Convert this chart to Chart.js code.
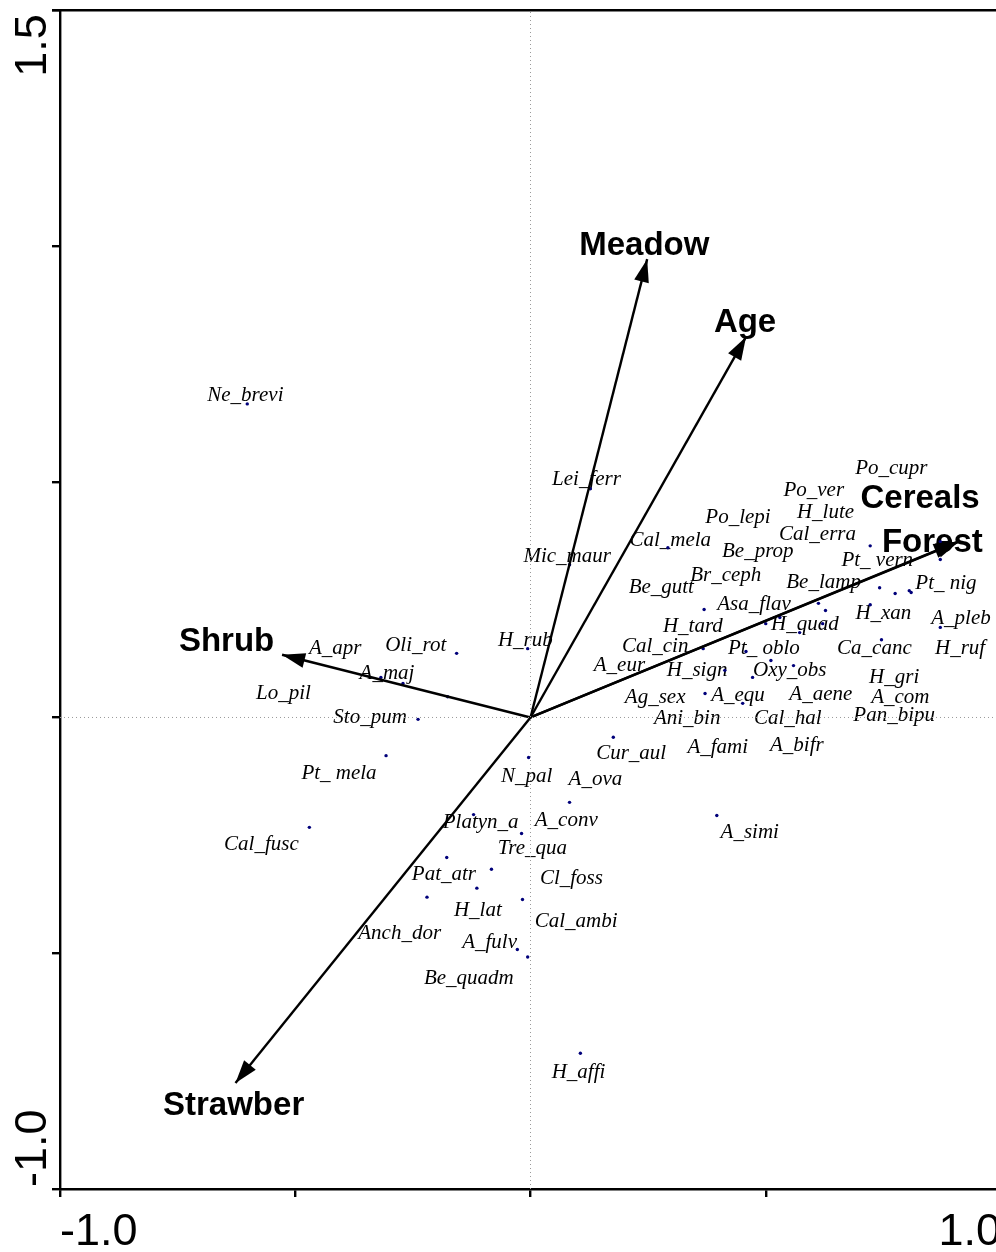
<!DOCTYPE html>
<html>
<head>
<meta charset="utf-8">
<script src="https://cdn.jsdelivr.net/npm/chart.js@4.4.1/dist/chart.umd.min.js"></script>
<style>
  html, body { margin: 0; padding: 0; background: #fff; overflow: hidden; }
  #wrap { width: 1010px; height: 1252px; }
</style>
</head>
<body>
<div id="wrap"><canvas id="c" width="1010" height="1252"></canvas></div>
<script>
// ---- species scores (data units) ----
const speciesNames = ["Ne_brevi","Lei_ferr","Mic_maur","Cal_mela","Po_cupr","Po_ver","H_lute","Po_lepi","Cal_erra","Be_prop",
  "Pt_ vern","Br_ceph","Be_lamp","Pt_ nig","Be_gutt","Asa_flav","H_xan","A_pleb","H_tard","H_quad",
  "Ca_canc","H_ruf","Cal_cin","Pt_ oblo","A_eur","H_sign","Oxy_obs","H_gri","Ag_sex","A_equ",
  "A_aene","A_com","Ani_bin","Cal_hal","Pan_bipu","Cur_aul","A_fami","A_bifr","A_ova","A_simi",
  "A_apr","Oli_rot","H_rub","A_maj","Lo_pil","Sto_pum","Pt_ mela","N_pal","Cal_fusc","Platyn_a",
  "A_conv","Tre_qua","Pat_atr","Cl_foss","H_lat","Cal_ambi","Anch_dor","A_fulv","Be_quadm","H_affi"];
const speciesX = [-0.602,0.127,0.083,0.292,0.722,0.871,0.871,null,null,null,
  0.742,0.369,0.612,0.805,null,0.500,0.722,0.871,0.530,0.621,
  0.746,0.809,0.367,0.458,null,0.413,0.559,0.775,0.371,0.451,
  0.572,0.627,0.472,0.511,null,0.176,null,null,0.083,0.396,
  -0.318,-0.157,-0.006,-0.271,-0.176,-0.239,-0.307,-0.004,-0.470,-0.121,
  null,-0.019,-0.178,-0.017,-0.114,-0.006,-0.220,-0.028,-0.083,0.106];
const speciesY = [0.665,0.485,0.324,0.360,0.364,0.373,0.335,null,null,null,
  0.275,0.229,0.242,0.269,null,0.199,0.239,0.191,0.212,0.199,
  0.165,0.265,0.146,0.140,null,0.100,0.110,0.263,0.051,0.030,
  0.180,0.227,0.085,0.121,null,-0.042,null,null,-0.180,-0.208,
  0.085,0.136,0.146,0.072,0.044,-0.004,-0.081,-0.085,-0.233,-0.206,
  null,-0.246,-0.297,-0.386,-0.362,-0.508,-0.381,-0.492,-0.322,-0.712];
// label anchors (data units, as placed in the original plot)
const labelX = [-0.606,0.119,0.078,0.297,0.767,0.602,0.627,0.441,0.610,0.483,
  0.737,0.415,0.623,0.883,0.278,0.475,0.750,0.915,0.345,0.583,
  0.731,0.913,0.265,0.496,0.189,0.354,0.551,0.773,0.265,0.441,
  0.617,0.786,0.333,0.547,0.773,0.214,0.398,0.566,0.138,0.466,
  -0.415,-0.244,-0.011,-0.305,-0.525,-0.341,-0.407,-0.008,-0.572,-0.106,
  0.076,0.004,-0.184,0.087,-0.112,0.097,-0.278,-0.087,-0.131,0.102];
const labelY = [0.682,0.504,0.341,0.375,0.528,0.481,0.434,0.424,0.388,0.352,
  0.333,0.301,0.286,0.284,0.275,0.239,0.220,0.210,0.193,0.197,
  0.146,0.146,0.150,0.146,0.110,0.100,0.100,0.085,0.042,0.047,
  0.049,0.042,-0.002,-0.002,0.004,-0.076,-0.064,-0.059,-0.131,-0.244,
  0.146,0.153,0.163,0.093,0.051,0.000,-0.119,-0.125,-0.269,-0.222,
  -0.218,-0.278,-0.333,-0.341,-0.409,-0.432,-0.458,-0.477,-0.553,-0.752];

// ---- environmental variables (arrow tips, data units) ----
const envNames = ["Meadow","Age","Cereals","Forest","Shrub","Strawber"];
const envX = [0.248,0.458,0.906,0.911,-0.528,-0.627];
const envY = [0.972,0.807,0.372,0.373,0.133,-0.775];
const envLabelX = [0.242,0.456,0.828,0.854,-0.646,-0.631];
const envLabelY = [1.000,0.837,0.464,0.371,0.161,-0.824];

// ---- axes ----
const xMin = -1.0, xMax = 1.0, yMin = -1.0, yMax = 1.5, tickStep = 0.5;
const xTickLabels = ["-1.0","1.0"];
const yTickLabels = ["1.5","-1.0"];

const datasets = [];
// zero reference lines
datasets.push({ data:[{x:0,y:yMin},{x:0,y:yMax}], showLine:true, borderColor:'#9a9a9a', borderWidth:1, borderDash:[1,3], pointRadius:0 });
datasets.push({ data:[{x:xMin,y:0},{x:xMax,y:0}], showLine:true, borderColor:'#9a9a9a', borderWidth:1, borderDash:[1,3], pointRadius:0 });
// arrows
envNames.forEach((n,i)=>{
  datasets.push({ label:n, data:[{x:0,y:0},{x:envX[i],y:envY[i]}], showLine:true, borderColor:'#000', borderWidth:2.4, pointRadius:0 });
});
// species points
const pts = [];
speciesNames.forEach((n,i)=>{ if (speciesX[i]!==null) pts.push({x:speciesX[i], y:speciesY[i]}); });
datasets.push({ data: pts, showLine:false, pointRadius:1.7, pointBackgroundColor:'#00007a', pointBorderWidth:0, borderColor:'#00007a' });

const labelPlugin = {
  id:'labels',
  beforeDatasetsDraw(chart){
    const {ctx, scales:{x,y}} = chart;
    ctx.save();
    ctx.fillStyle = '#000';
    ctx.textAlign = 'center';
    ctx.textBaseline = 'middle';
    ctx.font = 'italic 21px "Liberation Serif", "Times New Roman", serif';
    speciesNames.forEach((n,i)=>{
      ctx.fillText(n, x.getPixelForValue(labelX[i]), y.getPixelForValue(labelY[i]));
    });
    ctx.font = 'bold 33px "Liberation Sans", Arial, sans-serif';
    envNames.forEach((n,i)=>{
      ctx.fillText(n, x.getPixelForValue(envLabelX[i]), y.getPixelForValue(envLabelY[i]));
    });
    ctx.restore();
  },
  afterDatasetsDraw(chart){
    const {ctx, scales:{x,y}, chartArea} = chart;
    ctx.save();
    // arrowheads
    const ox = x.getPixelForValue(0), oy = y.getPixelForValue(0);
    envNames.forEach((n,i)=>{
      const tx = x.getPixelForValue(envX[i]), ty = y.getPixelForValue(envY[i]);
      const a = Math.atan2(ty-oy, tx-ox);
      const L = 23, W = 7.5;
      ctx.beginPath();
      ctx.moveTo(tx, ty);
      ctx.lineTo(tx - L*Math.cos(a) + W*Math.sin(a), ty - L*Math.sin(a) - W*Math.cos(a));
      ctx.lineTo(tx - L*Math.cos(a) - W*Math.sin(a), ty - L*Math.sin(a) + W*Math.cos(a));
      ctx.closePath();
      ctx.fillStyle = '#000';
      ctx.fill();
    });
    // top frame line
    ctx.strokeStyle = '#000';
    ctx.lineWidth = 2.4;
    ctx.beginPath();
    ctx.moveTo(chartArea.left - 8, chartArea.top);
    ctx.lineTo(chartArea.right, chartArea.top);
    ctx.stroke();
    ctx.restore();
  },
  afterDraw(chart){
    const {ctx, scales:{y}} = chart;
    ctx.save();
    ctx.fillStyle = '#000';
    ctx.font = '45px "Liberation Sans", Arial, sans-serif';
    ctx.textBaseline = 'alphabetic';
    const bx = 46;
    let py = y.getPixelForValue(yMax);
    ctx.translate(bx, py);
    ctx.rotate(-Math.PI/2);
    ctx.textAlign = 'right';
    ctx.fillText(yTickLabels[0], -4, 0);
    ctx.setTransform(1,0,0,1,0,0);
    py = y.getPixelForValue(yMin);
    ctx.translate(bx, py);
    ctx.rotate(-Math.PI/2);
    ctx.textAlign = 'left';
    ctx.fillText(yTickLabels[1], 2, 0);
    ctx.restore();
  }
};

new Chart(document.getElementById('c'), {
  type:'scatter',
  data:{ datasets },
  options:{
    responsive:false,
    animation:false,
    devicePixelRatio:1,
    layout:{ padding:{ top:8, right:3, left:0, bottom:0 } },
    plugins:{ legend:{display:false}, tooltip:{enabled:false} },
    scales:{
      x:{
        type:'linear', min:xMin, max:xMax,
        afterFit(s){ s.height = 63; },
        ticks:{ stepSize:tickStep, align:'inner', padding:9, color:'#000',
          font:{ family:'"Liberation Sans", Arial, sans-serif', size:45 },
          callback(v){ if (Math.abs(v-xMin)<1e-9) return xTickLabels[0]; if (Math.abs(v-xMax)<1e-9) return xTickLabels[1]; return ''; } },
        grid:{ display:true, drawOnChartArea:false, drawTicks:true, tickLength:8, color:'#000', lineWidth:2.4 },
        border:{ display:true, color:'#000', width:2.4 }
      },
      y:{
        type:'linear', min:yMin, max:yMax,
        afterFit(s){ s.width = 60; },
        ticks:{ stepSize:tickStep, callback(){ return ''; } },
        grid:{ display:true, drawOnChartArea:false, drawTicks:true, tickLength:8, color:'#000', lineWidth:2.4 },
        border:{ display:true, color:'#000', width:2.4 }
      }
    }
  },
  plugins:[labelPlugin]
});
</script>
</body>
</html>
